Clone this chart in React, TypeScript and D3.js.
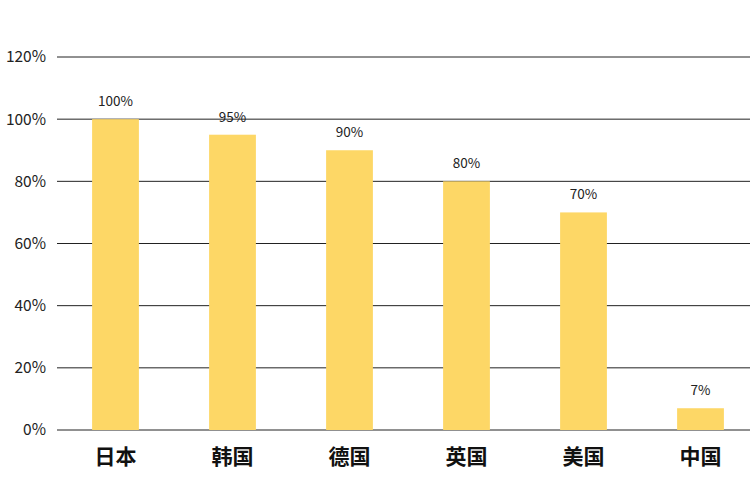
import React from "react";
import * as d3 from "d3";

const categories = ["日本", "韩国", "德国", "英国", "美国", "中国"];
const values = [100, 95, 90, 80, 70, 7];
const yTicks = [0, 20, 40, 60, 80, 100, 120];

const App = () => {
  const width = 750;
  const height = 500;

  const x = d3.scaleBand().domain(categories).range([57, 759]).paddingInner(0.6).paddingOuter(0.3);
  const y = d3.scaleLinear().domain([0, 120]).range([430, 57]);

  return (
    <svg
      width={width}
      height={height}
      style={{ position: "absolute", left: 0, top: 0, background: "white" }}
      fontFamily="'Noto Sans CJK SC', 'Open Sans', sans-serif"
    >
      {yTicks.map((t) => (
        <g key={t}>
          <line x1={57} x2={750} y1={y(t)} y2={y(t)} stroke="#222" strokeWidth={1} />
          <text x={46} y={y(t)} dy="0.35em" textAnchor="end" fontSize={15.5} fill="#222">
            {t}%
          </text>
        </g>
      ))}
      {categories.map((c, i) => (
        <g key={c}>
          <rect
            x={x(c)}
            y={y(values[i])}
            width={x.bandwidth()}
            height={y(0) - y(values[i])}
            fill="#fdd766"
          />
          <text
            x={(x(c) as number) + x.bandwidth() / 2}
            y={y(values[i]) - 13}
            textAnchor="middle"
            fontSize={13.5}
            fill="#222"
          >
            {values[i]}%
          </text>
          <text
            x={(x(c) as number) + x.bandwidth() / 2}
            y={464}
            textAnchor="middle"
            fontSize={21}
            fontWeight="bold"
            fill="#111"
          >
            {c}
          </text>
        </g>
      ))}
    </svg>
  );
};

export default App;
